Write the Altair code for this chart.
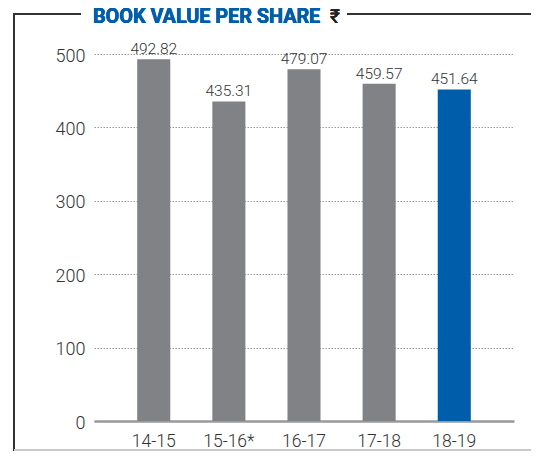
import altair as alt
import pandas as pd

years = ["14-15", "15-16*", "16-17", "17-18", "18-19"]
values = [492.82, 435.31, 479.07, 459.57, 451.64]
highlight = [False, False, False, False, True]
labels = ["492.82", "435.31", "479.07", "459.57", "451.64"]
title_text = "BOOK VALUE PER SHARE"
currency = "₹"

df = pd.DataFrame({"year": years, "value": values, "hl": highlight, "label": labels})

GRAY = "#808285"
BLUE = "#005da9"
FONT = "Roboto"

x_enc = alt.X("year:N", sort=years, title=None,
              scale=alt.Scale(paddingInner=0.56, paddingOuter=0.575),
              axis=alt.Axis(labelAngle=0, labelFont=FONT, labelFontSize=17.5,
                            labelFontWeight=300, labelColor="#333", labelPadding=11,
                            ticks=False, domainColor="#999", domainWidth=2.5))
y_enc = alt.Y("value:Q", title=None,
              scale=alt.Scale(domain=[0, 500], nice=False),
              axis=alt.Axis(values=[0, 100, 200, 300, 400, 500], labelFont=FONT,
                            labelFontSize=18, labelFontWeight=300, labelColor="#333",
                            labelPadding=9, labelOffset=2, ticks=False, domain=False,
                            grid=True, gridColor="#999", gridDash=[1.5, 1.5], gridWidth=1))

bars = alt.Chart(df).mark_bar().encode(
    x=x_enc, y=y_enc,
    color=alt.Color("hl:N", scale=alt.Scale(domain=[False, True], range=[GRAY, BLUE]), legend=None),
)

text = alt.Chart(df).mark_text(font=FONT, fontSize=15.5, fontWeight=300, color="#333",
                               baseline="alphabetic", dy=-5).encode(
    x=alt.X("year:N", sort=years), y="value:Q", text="label:N")

frame_color = "#333"
left_line = alt.Chart(df).mark_rule(color=frame_color, strokeWidth=1.8).encode(
    x=alt.value(-80), y=alt.value(-40), y2=alt.value(400))
top_left = alt.Chart(df).mark_rule(color=frame_color, strokeWidth=1.8).encode(
    x=alt.value(-80.9), x2=alt.value(-13), y=alt.value(-40))
top_right = alt.Chart(df).mark_rule(color=frame_color, strokeWidth=1.8).encode(
    x=alt.value(253), x2=alt.value(440), y=alt.value(-40))
bottom_line = alt.Chart(df).mark_rule(color="#c8c8c8", strokeWidth=1.5).encode(
    x=alt.value(-80), x2=alt.value(440), y=alt.value(396))

title = alt.Chart(df).mark_text(font=FONT, fontSize=19.8, fontWeight="bold", color=BLUE,
                                align="left", baseline="alphabetic").encode(
    x=alt.value(-1), y=alt.value(-31.5), text=alt.value(title_text))
rupee = alt.Chart(df).mark_text(font=FONT, fontSize=19, color="#222",
                                align="left", baseline="alphabetic").encode(
    x=alt.value(236), y=alt.value(-31.5), text=alt.value(currency))

chart = alt.layer(bars, text, left_line, top_left, top_right, bottom_line, title, rupee).properties(
    width=420, height=367,
    autosize=alt.AutoSizeParams(type="none"),
    padding={"left": 86, "top": 46, "right": 17, "bottom": 30},
).configure_view(stroke=None)

chart.save("out.html", embed_options={"renderer": "svg", "actions": False})
